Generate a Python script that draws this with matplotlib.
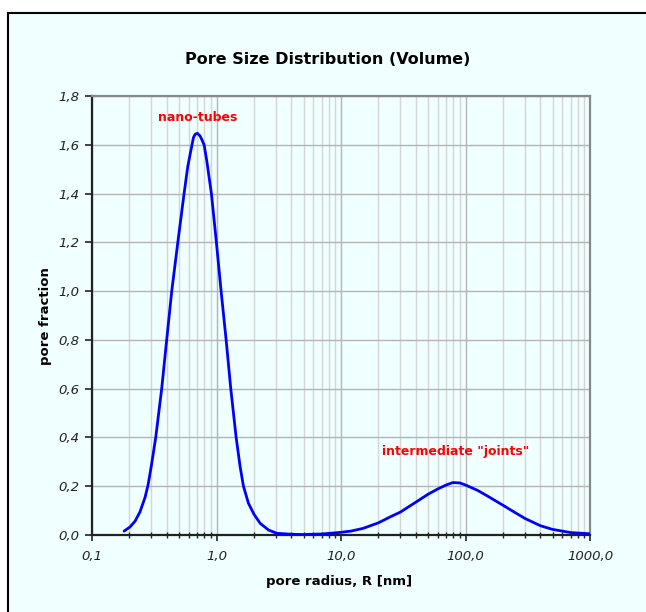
import matplotlib
matplotlib.use("Agg")
import matplotlib.pyplot as plt
from matplotlib.patches import Rectangle
from matplotlib.ticker import LogLocator, NullFormatter

radius_nm = [0.181, 0.202, 0.222, 0.243, 0.267, 0.282, 0.300, 0.325, 0.363, 0.398, 0.437,
             0.489, 0.549, 0.5875, 0.6135, 0.6524, 0.673, 0.7025, 0.738, 0.761, 0.795, 0.836,
             0.910, 0.998, 1.089, 1.195, 1.302, 1.438, 1.548, 1.646, 1.806, 2.0, 2.242, 2.616, 3.05,
             4.0, 5.0, 7.0, 10, 12, 15, 20, 25, 30, 35, 40, 50, 60, 70, 79, 90, 100, 125,
             150, 200, 250, 300, 400, 500, 700, 1000]
pore_fraction = [0.016, 0.033, 0.057, 0.095, 0.155, 0.205, 0.285, 0.400, 0.600, 0.800, 1.000,
                 1.200, 1.400, 1.510, 1.560, 1.629, 1.643, 1.647, 1.636, 1.622, 1.600, 1.533,
                 1.400, 1.200, 1.000, 0.800, 0.600, 0.400, 0.280, 0.200, 0.130, 0.085, 0.048, 0.0205,
                 0.007, 0.003, 0.002, 0.004, 0.011, 0.016, 0.027, 0.050, 0.075, 0.094, 0.116, 0.135,
                 0.167, 0.189, 0.205, 0.215, 0.2135, 0.205, 0.183, 0.160, 0.122, 0.092, 0.068,
                 0.038, 0.023, 0.010, 0.005]

x_ticks = [0.1, 1.0, 10.0, 100.0, 1000.0]
x_tick_labels = ["0,1", "1,0", "10,0", "100,0", "1000,0"]
y_ticks = [0.0, 0.2, 0.4, 0.6, 0.8, 1.0, 1.2, 1.4, 1.6, 1.8]
y_tick_labels = ["0,0", "0,2", "0,4", "0,6", "0,8", "1,0", "1,2", "1,4", "1,6", "1,8"]

title = "Pore Size Distribution (Volume)"
xlabel = "pore radius, R [nm]"
ylabel = "pore fraction"
annotations = [("nano-tubes", 0.70, 1.71), ('intermediate "joints"', 83, 0.343)]

W, H = 646, 612
bg = "#F0FFFF"
fig = plt.figure(figsize=(W / 100, H / 100), dpi=100, facecolor="white")
frame = Rectangle((8 / W, -0.1), 1.2, (H - 13) / H + 0.1, transform=fig.transFigure,
                  facecolor=bg, edgecolor="black", linewidth=1.5, zorder=-10)
fig.patches.append(frame)

ax = fig.add_axes([92 / W, 77 / H, 498 / W, 439 / H])
ax.set_zorder(1)
ax.set_facecolor(bg)
ax.set_xscale("log")
ax.set_xlim(0.1, 1000)
ax.set_ylim(0, 1.8)

ax.set_xticks(x_ticks, x_tick_labels, fontstyle="italic", color="#222222")
ax.xaxis.set_minor_locator(LogLocator(base=10, subs=range(2, 10)))
ax.xaxis.set_minor_formatter(NullFormatter())
ax.set_yticks(y_ticks, y_tick_labels, fontstyle="italic", color="#222222")

ax.grid(True, which="major", color="#b4b4b4", linewidth=1.0, zorder=1)
ax.grid(True, which="minor", axis="x", color="#d6d6d6", linewidth=1.0, zorder=1)
ax.set_axisbelow(True)

for s in ["left", "bottom"]:
    ax.spines[s].set_color("#222222")
    ax.spines[s].set_linewidth(1.6)
for s in ["top", "right"]:
    ax.spines[s].set_color("#888888")
    ax.spines[s].set_linewidth(1.6)

ax.tick_params(axis="y", which="major", direction="out", length=5, width=1.2, color="#222222",
               labelsize=9.5, pad=4)
ax.tick_params(axis="x", which="major", direction="out", length=4, width=1.2, color="#222222",
               labelsize=9.5, pad=7)
ax.tick_params(axis="x", which="minor", direction="inout", length=5, width=1.0, color="#222222")

ax.plot(radius_nm, pore_fraction, color="#0000FF", linewidth=2.0, zorder=3,
        solid_capstyle="round", solid_joinstyle="round")

for txt, xv, yv in annotations:
    ax.text(xv, yv, txt, color="#FF0000", fontsize=9, fontweight="bold", ha="center", va="center")

fig.text(328 / W, 1 - 60 / H, title, fontsize=11.5, fontweight="bold", ha="center", va="center")
fig.text(339 / W, 1 - 582 / H, xlabel, fontsize=9.5, fontweight="bold", ha="center", va="center")
fig.text(45 / W, 1 - 316 / H, ylabel, fontsize=9.5, fontweight="bold", ha="center", va="center",
         rotation=90)

fig.savefig("out.png", dpi=100, facecolor="white")
